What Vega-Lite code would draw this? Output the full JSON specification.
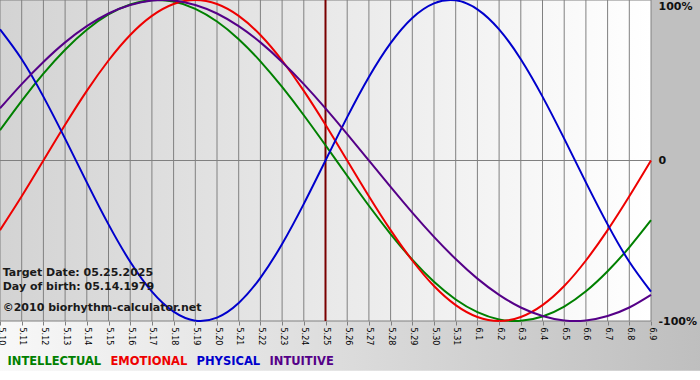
{
  "$schema": "https://vega.github.io/schema/vega-lite/v6.json",
  "width": 651,
  "height": 321,
  "autosize": {"type": "none"},
  "padding": {"left": 0, "top": 0, "right": 49, "bottom": 59},
  "background": "#ffffff",
  "config": {"view": {"stroke": null}, "font": "DejaVu Sans"},
  "datasets": {
    "bio": [
      {"date": "2025-05-10", "INTELLECTUAL": 0.189, "EMOTIONAL": -0.434, "PHYSICAL": 0.817, "INTUITIVE": 0.325},
      {"date": "2025-05-11", "INTELLECTUAL": 0.372, "EMOTIONAL": -0.223, "PHYSICAL": 0.631, "INTUITIVE": 0.476},
      {"date": "2025-05-12", "INTELLECTUAL": 0.541, "EMOTIONAL": 0.0, "PHYSICAL": 0.398, "INTUITIVE": 0.614},
      {"date": "2025-05-13", "INTELLECTUAL": 0.690, "EMOTIONAL": 0.223, "PHYSICAL": 0.136, "INTUITIVE": 0.736},
      {"date": "2025-05-14", "INTELLECTUAL": 0.815, "EMOTIONAL": 0.434, "PHYSICAL": -0.136, "INTUITIVE": 0.837},
      {"date": "2025-05-15", "INTELLECTUAL": 0.910, "EMOTIONAL": 0.623, "PHYSICAL": -0.398, "INTUITIVE": 0.916},
      {"date": "2025-05-16", "INTELLECTUAL": 0.972, "EMOTIONAL": 0.782, "PHYSICAL": -0.631, "INTUITIVE": 0.969},
      {"date": "2025-05-17", "INTELLECTUAL": 0.999, "EMOTIONAL": 0.901, "PHYSICAL": -0.817, "INTUITIVE": 0.997},
      {"date": "2025-05-18", "INTELLECTUAL": 0.990, "EMOTIONAL": 0.975, "PHYSICAL": -0.942, "INTUITIVE": 0.997},
      {"date": "2025-05-19", "INTELLECTUAL": 0.945, "EMOTIONAL": 1.0, "PHYSICAL": -0.998, "INTUITIVE": 0.969},
      {"date": "2025-05-20", "INTELLECTUAL": 0.866, "EMOTIONAL": 0.975, "PHYSICAL": -0.979, "INTUITIVE": 0.916},
      {"date": "2025-05-21", "INTELLECTUAL": 0.756, "EMOTIONAL": 0.901, "PHYSICAL": -0.888, "INTUITIVE": 0.837},
      {"date": "2025-05-22", "INTELLECTUAL": 0.618, "EMOTIONAL": 0.782, "PHYSICAL": -0.731, "INTUITIVE": 0.736},
      {"date": "2025-05-23", "INTELLECTUAL": 0.458, "EMOTIONAL": 0.623, "PHYSICAL": -0.520, "INTUITIVE": 0.614},
      {"date": "2025-05-24", "INTELLECTUAL": 0.282, "EMOTIONAL": 0.434, "PHYSICAL": -0.270, "INTUITIVE": 0.476},
      {"date": "2025-05-25", "INTELLECTUAL": 0.095, "EMOTIONAL": 0.223, "PHYSICAL": 0.0, "INTUITIVE": 0.325},
      {"date": "2025-05-26", "INTELLECTUAL": -0.095, "EMOTIONAL": 0.0, "PHYSICAL": 0.270, "INTUITIVE": 0.165},
      {"date": "2025-05-27", "INTELLECTUAL": -0.282, "EMOTIONAL": -0.223, "PHYSICAL": 0.520, "INTUITIVE": 0.0},
      {"date": "2025-05-28", "INTELLECTUAL": -0.458, "EMOTIONAL": -0.434, "PHYSICAL": 0.731, "INTUITIVE": -0.165},
      {"date": "2025-05-29", "INTELLECTUAL": -0.618, "EMOTIONAL": -0.623, "PHYSICAL": 0.888, "INTUITIVE": -0.325},
      {"date": "2025-05-30", "INTELLECTUAL": -0.756, "EMOTIONAL": -0.782, "PHYSICAL": 0.979, "INTUITIVE": -0.476},
      {"date": "2025-05-31", "INTELLECTUAL": -0.866, "EMOTIONAL": -0.901, "PHYSICAL": 0.998, "INTUITIVE": -0.614},
      {"date": "2025-06-01", "INTELLECTUAL": -0.945, "EMOTIONAL": -0.975, "PHYSICAL": 0.942, "INTUITIVE": -0.736},
      {"date": "2025-06-02", "INTELLECTUAL": -0.990, "EMOTIONAL": -1.0, "PHYSICAL": 0.817, "INTUITIVE": -0.837},
      {"date": "2025-06-03", "INTELLECTUAL": -0.999, "EMOTIONAL": -0.975, "PHYSICAL": 0.631, "INTUITIVE": -0.916},
      {"date": "2025-06-04", "INTELLECTUAL": -0.972, "EMOTIONAL": -0.901, "PHYSICAL": 0.398, "INTUITIVE": -0.969},
      {"date": "2025-06-05", "INTELLECTUAL": -0.910, "EMOTIONAL": -0.782, "PHYSICAL": 0.136, "INTUITIVE": -0.997},
      {"date": "2025-06-06", "INTELLECTUAL": -0.815, "EMOTIONAL": -0.623, "PHYSICAL": -0.136, "INTUITIVE": -0.997},
      {"date": "2025-06-07", "INTELLECTUAL": -0.690, "EMOTIONAL": -0.434, "PHYSICAL": -0.398, "INTUITIVE": -0.969},
      {"date": "2025-06-08", "INTELLECTUAL": -0.541, "EMOTIONAL": -0.223, "PHYSICAL": -0.631, "INTUITIVE": -0.916},
      {"date": "2025-06-09", "INTELLECTUAL": -0.372, "EMOTIONAL": 0.0, "PHYSICAL": -0.817, "INTUITIVE": -0.837}
    ],
    "levels": [{"level": 1}, {"level": 0}, {"level": -1}],
    "one": [{}]
  },
  "data": {"name": "bio"},
  "layer": [
    {
      "data": {"name": "one"},
      "mark": {"type": "rect", "fill": {"gradient": "linear", "x1": 0, "y1": 0, "x2": 1, "y2": 0, "stops": [{"offset": 0, "color": "#d3d3d3"}, {"offset": 1, "color": "#ffffff"}]}},
      "encoding": {
        "x": {"datum": {"year": 2025, "month": 5, "date": 10, "utc": true}},
        "x2": {"datum": {"year": 2025, "month": 6, "date": 9, "utc": true}},
        "y": {"datum": 1},
        "y2": {"datum": -1}
      }
    },
    {
      "data": {"name": "one"},
      "mark": {"type": "rect", "fill": "#c0c0c0"},
      "encoding": {
        "x": {"datum": {"year": 2025, "month": 6, "date": 9, "utc": true}},
        "x2": {"datum": {"year": 2025, "month": 6, "date": 11, "hours": 12, "utc": true}},
        "y": {"datum": 1},
        "y2": {"datum": -1}
      }
    },
    {
      "data": {"name": "one"},
      "mark": {"type": "rect", "fill": {"gradient": "linear", "x1": 0, "y1": 0, "x2": 1, "y2": 0, "stops": [{"offset": 0, "color": "#f8f8f8"}, {"offset": 1, "color": "#bebebe"}]}},
      "encoding": {
        "x": {"datum": {"year": 2025, "month": 5, "date": 10, "utc": true}},
        "x2": {"datum": {"year": 2025, "month": 6, "date": 11, "hours": 12, "utc": true}},
        "y": {"datum": -1},
        "y2": {"datum": -1.31}
      }
    },
    {
      "mark": {"type": "rule", "color": "#808080", "strokeWidth": 1},
      "encoding": {"x": {"field": "date", "type": "temporal"}}
    },
    {
      "data": {"name": "levels"},
      "mark": {"type": "rule", "color": "#808080", "strokeWidth": 1},
      "encoding": {"y": {"field": "level", "type": "quantitative"}}
    },
    {
      "data": {"name": "one"},
      "mark": {"type": "rule", "color": "#7a0000", "strokeWidth": 2},
      "encoding": {"x": {"datum": {"year": 2025, "month": 5, "date": 25, "utc": true}}}
    },
    {
      "transform": [{"fold": ["INTELLECTUAL", "EMOTIONAL", "PHYSICAL", "INTUITIVE"], "as": ["series", "value"]}],
      "mark": {"type": "line", "interpolate": "natural", "strokeWidth": 2},
      "encoding": {
        "x": {
          "field": "date",
          "type": "temporal",
          "scale": {"type": "utc", "domain": [{"year": 2025, "month": 5, "date": 10, "utc": true}, {"year": 2025, "month": 6, "date": 9, "utc": true}]},
          "axis": {
            "title": null,
            "format": "%-m.%-d",
            "tickCount": {"interval": "day", "step": 1},
            "labelAngle": 90,
            "labelFontSize": 8,
            "labelFont": "DejaVu Sans",
            "labelColor": "#000000",
            "tickSize": 4,
            "tickColor": "#808080",
            "labelPadding": 2,
            "domain": false,
            "grid": false,
            "labelOverlap": false,
            "labelFlush": false,
            "labelBound": false,
            "zindex": 1
          }
        },
        "y": {
          "field": "value",
          "type": "quantitative",
          "scale": {"domain": [-1, 1], "nice": false, "zero": false},
          "axis": {
            "orient": "right",
            "title": null,
            "values": [-1, 0, 1],
            "labelExpr": "datum.value == 1 ? '100%' : (datum.value == 0 ? '0' : '-100%')",
            "ticks": false,
            "domain": false,
            "grid": false,
            "labelPadding": 7,
            "labelFontSize": 11,
            "labelFontWeight": "bold",
            "labelFont": "DejaVu Sans",
            "labelColor": "#111111",
            "labelBaseline": {"condition": {"test": "datum.value == 1", "value": "top"}, "value": "middle"},
            "zindex": 1
          }
        },
        "color": {
          "field": "series",
          "type": "nominal",
          "scale": {"domain": ["INTELLECTUAL", "EMOTIONAL", "PHYSICAL", "INTUITIVE"], "range": ["#008000", "#ee0000", "#0000cc", "#550088"]},
          "legend": {
            "orient": "none",
            "legendX": 7,
            "legendY": 356,
            "direction": "horizontal",
            "title": null,
            "symbolSize": 0,
            "symbolStrokeWidth": 0,
            "symbolOpacity": 0,
            "labelOffset": -11,
            "columnPadding": 8,
            "padding": 0,
            "labelFontSize": 11.5,
            "labelFontWeight": "bold",
            "labelFont": "DejaVu Sans",
            "encode": {"labels": {"update": {"fill": {"scale": "color", "field": "value"}}}}
          }
        }
      }
    },
    {
      "data": {"name": "one"},
      "mark": {"type": "text", "text": "Target Date: 05.25.2025", "align": "left", "baseline": "alphabetic", "fontSize": 11, "fontWeight": "bold", "font": "DejaVu Sans", "color": "#1a1a1a"},
      "encoding": {"x": {"datum": {"year": 2025, "month": 5, "date": 10, "hours": 3, "utc": true}}, "y": {"datum": -0.72}}
    },
    {
      "data": {"name": "one"},
      "mark": {"type": "text", "text": "Day of birth: 05.14.1979", "align": "left", "baseline": "alphabetic", "fontSize": 11, "fontWeight": "bold", "font": "DejaVu Sans", "color": "#1a1a1a"},
      "encoding": {"x": {"datum": {"year": 2025, "month": 5, "date": 10, "hours": 3, "utc": true}}, "y": {"datum": -0.807}}
    },
    {
      "data": {"name": "one"},
      "mark": {"type": "text", "text": "©2010 biorhythm-calculator.net", "align": "left", "baseline": "alphabetic", "fontSize": 11, "fontWeight": "bold", "font": "DejaVu Sans", "color": "#1a1a1a"},
      "encoding": {"x": {"datum": {"year": 2025, "month": 5, "date": 10, "hours": 3, "utc": true}}, "y": {"datum": -0.938}}
    }
  ]
}
